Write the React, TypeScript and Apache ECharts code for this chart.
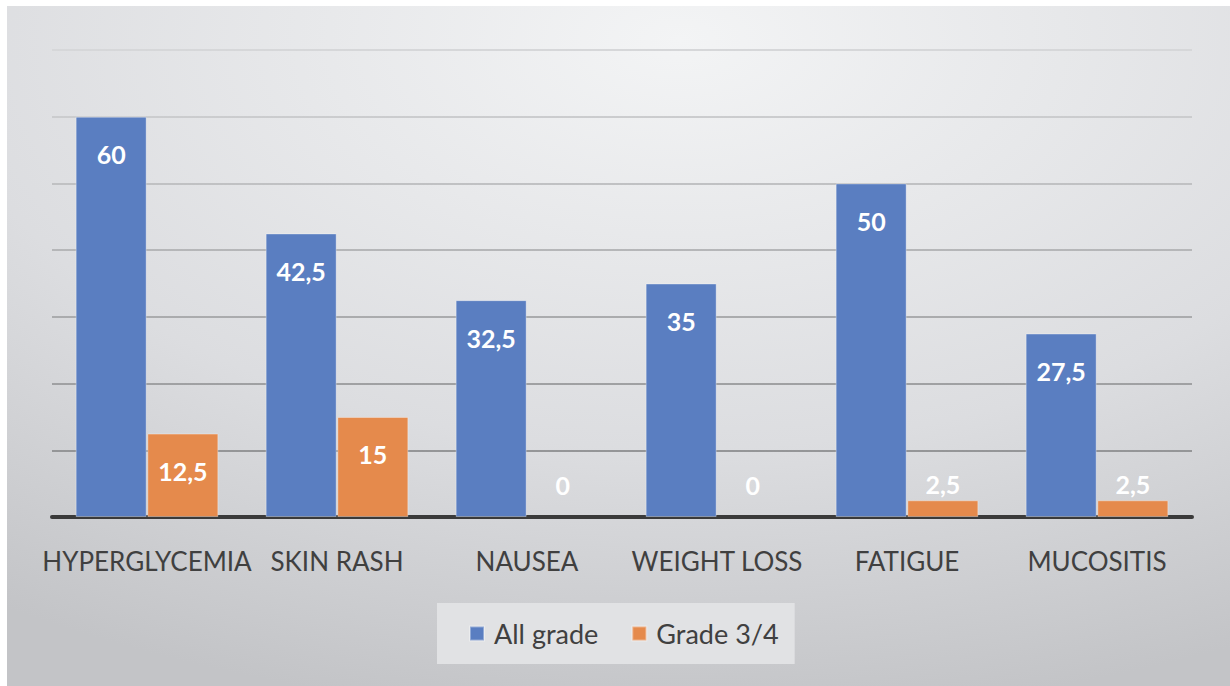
import React, { useEffect, useRef } from "react";
import * as echarts from "echarts";

const categories = ["HYPERGLYCEMIA", "SKIN RASH", "NAUSEA", "WEIGHT LOSS", "FATIGUE", "MUCOSITIS"];
const allGrade = [60, 42.5, 32.5, 35, 50, 27.5];
const grade34 = [12.5, 15, 0, 0, 2.5, 2.5];
const seriesNames = ["All grade", "Grade 3/4"];

const FONT = "Lato, 'Open Sans', sans-serif";

function fmt(v: number) {
  return String(v).replace(".", ",");
}

function makeData(values: number[]) {
  return values.map((v) => {
    if (v === 0) {
      return { value: v, itemStyle: { borderWidth: 0 }, label: { position: "top", distance: 20 } };
    }
    if (v < 5) {
      return { value: v, label: { position: "top", distance: 4 } };
    }
    return { value: v };
  });
}

export default function App() {
  const ref = useRef<HTMLDivElement>(null);
  useEffect(() => {
    document.body.style.margin = "0";
    const chart = echarts.init(ref.current!, null, { renderer: "svg" });
    const labelCommon = {
      show: true,
      position: "insideTop",
      distance: 25,
      color: "#ffffff",
      fontFamily: FONT,
      fontWeight: "bold",
      fontSize: 25,
      formatter: (p: any) => fmt(p.value),
    };
    chart.setOption({
      animation: false,
      backgroundColor: {
        type: "radial",
        x: 0.55,
        y: 0.05,
        r: 1.0,
        colorStops: [
          { offset: 0, color: "#f3f4f5" },
          { offset: 0.6, color: "#dcdde0" },
          { offset: 1, color: "#c3c4c7" },
        ],
      },
      grid: { left: 45, top: 44, width: 1140, height: 467, containLabel: false },
      legend: {
        left: 430,
        top: 597,
        padding: [17, 16, 17, 32],
        backgroundColor: "#e1e2e4",
        itemWidth: 14,
        itemHeight: 14,
        itemGap: 33,
        icon: "rect",
        data: seriesNames,
        textStyle: { color: "#404040", fontSize: 27, fontFamily: FONT, padding: [0, 0, 0, 5] },
      },
      xAxis: {
        type: "category",
        data: categories,
        axisLine: { lineStyle: { color: "#3a3a3a", width: 4 } },
        axisTick: { show: false },
        axisLabel: { color: "#404040", fontSize: 26, fontFamily: FONT, margin: 31, interval: 0 },
      },
      yAxis: {
        type: "value",
        min: 0,
        max: 70,
        interval: 10,
        axisLabel: { show: false },
        axisLine: { show: false },
        axisTick: { show: false },
        splitLine: {
          lineStyle: {
            width: 2,
            color: {
              type: "linear",
              x: 0,
              y: 44,
              x2: 0,
              y2: 511,
              global: true,
              colorStops: [
                { offset: 0, color: "#d6d7d9" },
                { offset: 1, color: "#8a8b8d" },
              ],
            },
          },
        },
      },
      series: [
        {
          name: seriesNames[0],
          type: "bar",
          data: makeData(allGrade),
          barWidth: 71,
          barGap: "1%",
          itemStyle: { color: "#5a7ec1", borderColor: "rgba(255,255,255,0.35)", borderWidth: 1 },
          label: labelCommon,
        },
        {
          name: seriesNames[1],
          type: "bar",
          data: makeData(grade34),
          barWidth: 71,
          barGap: "1%",
          itemStyle: { color: "#e58a4c", borderColor: "rgba(255,255,255,0.35)", borderWidth: 1 },
          label: labelCommon,
        },
      ],
    });
    return () => chart.dispose();
  }, []);
  return (
    <div style={{ width: 1230, height: 686, background: "#ffffff", position: "relative" }}>
      <div ref={ref} style={{ position: "absolute", left: 7, top: 6, width: 1223, height: 680 }} />
    </div>
  );
}
